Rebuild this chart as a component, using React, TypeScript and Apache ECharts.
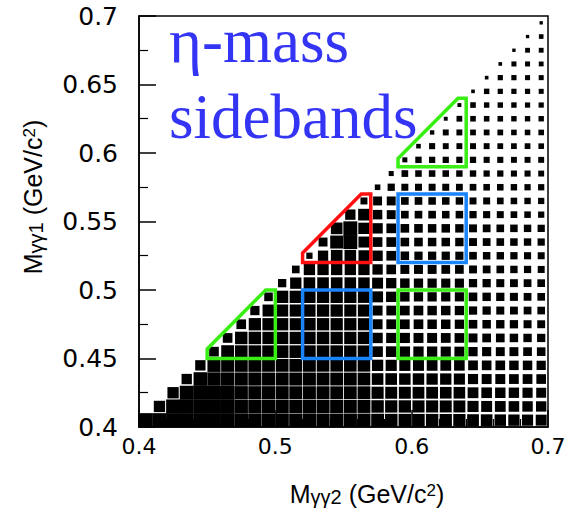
import React, { useEffect, useRef } from "react";
import * as echarts from "echarts";

// Bin centres of the 30 x 30 histogram (both axes share the binning, 0.01 GeV/c^2 wide).
const binCentres = [
  0.405, 0.415, 0.425, 0.435, 0.445, 0.455, 0.465, 0.475, 0.485, 0.495,
  0.505, 0.515, 0.525, 0.535, 0.545, 0.555, 0.565, 0.575, 0.585, 0.595,
  0.605, 0.615, 0.625, 0.635, 0.645, 0.655, 0.665, 0.675, 0.685, 0.695,
];

// Bin contents, one row per Mγγ1 bin; row j holds the Mγγ2 bins j..29 (Mγγ2 >= Mγγ1).
const rowCounts: number[][] = [
  [100, 100, 100, 100, 100, 100, 100, 95, 93, 92, 92, 90, 92, 90, 90, 90, 88, 84, 81, 81, 79, 79, 77, 77, 71, 69, 67, 65, 63, 61],
  [65, 100, 100, 100, 100, 100, 92, 90, 90, 90, 88, 90, 88, 88, 86, 86, 79, 77, 77, 75, 75, 73, 73, 63, 61, 59, 57, 55, 54],
  [65, 100, 100, 100, 100, 90, 88, 88, 88, 86, 86, 86, 84, 84, 84, 75, 73, 73, 71, 71, 69, 69, 59, 57, 55, 54, 52, 50],
  [54, 95, 92, 90, 88, 88, 86, 86, 86, 86, 84, 84, 84, 82, 69, 69, 67, 67, 65, 65, 63, 52, 50, 50, 48, 48, 47],
  [54, 88, 86, 86, 86, 84, 84, 84, 84, 82, 81, 81, 81, 65, 63, 63, 61, 59, 59, 57, 48, 47, 47, 45, 45, 43],
  [47, 84, 82, 81, 81, 81, 81, 81, 81, 81, 79, 79, 57, 57, 55, 54, 54, 52, 50, 43, 42, 40, 40, 38, 37],
  [47, 79, 79, 77, 77, 77, 79, 79, 77, 77, 77, 54, 52, 52, 50, 50, 48, 47, 40, 38, 38, 36, 35, 34],
  [47, 77, 77, 77, 75, 79, 77, 77, 77, 75, 50, 48, 47, 47, 45, 45, 43, 37, 36, 35, 34, 32, 31],
  [43, 73, 75, 75, 77, 77, 77, 75, 75, 50, 48, 47, 47, 45, 45, 43, 34, 34, 32, 31, 30, 29],
  [37, 77, 77, 77, 77, 77, 77, 75, 61, 54, 45, 43, 43, 43, 42, 37, 35, 34, 32, 30, 29],
  [34, 65, 69, 69, 69, 69, 67, 61, 54, 45, 43, 43, 42, 42, 34, 34, 32, 31, 30, 29],
  [29, 65, 65, 65, 65, 65, 54, 47, 40, 40, 40, 38, 38, 31, 30, 29, 27, 26, 24],
  [19, 54, 69, 69, 61, 54, 47, 36, 34, 34, 34, 33, 29, 28, 27, 26, 25, 24],
  [40, 86, 100, 61, 47, 47, 37, 37, 36, 36, 35, 31, 30, 29, 28, 27, 26],
  [69, 100, 65, 54, 47, 37, 37, 36, 36, 35, 31, 30, 29, 28, 27, 26],
  [54, 69, 45, 40, 29, 29, 29, 28, 28, 26, 25, 24, 22, 21, 19],
  [24, 40, 40, 29, 29, 28, 28, 27, 24, 24, 22, 21, 20, 19],
  [15, 26, 24, 24, 24, 24, 23, 22, 21, 21, 20, 19, 19],
  [12, 22, 21, 21, 21, 20, 20, 19, 19, 18, 18, 17],
  [12, 20, 19, 19, 19, 19, 18, 18, 17, 17, 17],
  [10, 18, 17, 17, 17, 17, 16, 16, 16, 15],
  [9, 17, 17, 16, 16, 16, 15, 15, 15],
  [7, 16, 15, 15, 15, 14, 14, 14],
  [7, 15, 14, 14, 14, 13, 13],
  [6, 14, 13, 13, 13, 12],
  [6, 13, 13, 12, 12],
  [6, 12, 12, 11],
  [5, 11, 11],
  [5, 10],
  [5],
];
const maxCount = 100;

// Axis ticks
const xTicks = [0.4, 0.5, 0.6, 0.7];
const yTicks = [0.4, 0.45, 0.5, 0.55, 0.6, 0.65, 0.7];

// Selection regions as [Mγγ2, Mγγ1] vertices
const etaSignal = [[0.52, 0.52], [0.57, 0.52], [0.57, 0.57], [0.563, 0.57], [0.52, 0.527], [0.52, 0.52]];
const lowTriangle = [[0.45, 0.45], [0.5, 0.45], [0.5, 0.5], [0.493, 0.5], [0.45, 0.457], [0.45, 0.45]];
const highTriangle = [[0.59, 0.59], [0.64, 0.59], [0.64, 0.64], [0.634, 0.64], [0.59, 0.596], [0.59, 0.59]];
const lowBox = [[0.52, 0.45], [0.57, 0.45], [0.57, 0.5], [0.52, 0.5], [0.52, 0.45]];
const highBox = [[0.59, 0.52], [0.64, 0.52], [0.64, 0.57], [0.59, 0.57], [0.59, 0.52]];
const sideBox = [[0.59, 0.45], [0.64, 0.45], [0.64, 0.5], [0.59, 0.5], [0.59, 0.45]];

const GREEN = "#39ee14";
const BLUE = "#1a84fa";
const RED = "#ff1010";

const W = 569;
const H = 515;
const GRID = { left: 139, top: 16, width: 409, height: 411 };

export default function App() {
  const ref = useRef<HTMLDivElement>(null);

  useEffect(() => {
    if (!ref.current) return;
    const chart = echarts.init(ref.current, undefined, { renderer: "svg" });

    const binW = GRID.width / binCentres.length;
    const binH = GRID.height / binCentres.length;

    const cells: number[][] = [];
    rowCounts.forEach((row, j) => {
      row.forEach((c, k) => {
        cells.push([binCentres[j + k], binCentres[j], c]);
      });
    });

    const outline = (data: number[][], color: string) => ({
      type: "line",
      data,
      symbol: "none",
      silent: true,
      z: 5,
      lineStyle: { color, width: 3.5, join: "miter", cap: "square" },
    });

    const tickFmt = (v: number) => String(Math.round(v * 100) / 100);
    const sans = "Liberation Sans";
    const titleRich = {
      m: { fontFamily: sans, fontSize: 25, lineHeight: 25, verticalAlign: "top", fill: "#000" },
      s: { fontFamily: sans, fontSize: 20, lineHeight: 25, padding: [8, 0, 0, 0], verticalAlign: "bottom", fill: "#000" },
      p: { fontFamily: sans, fontSize: 17, lineHeight: 15, verticalAlign: "top", fill: "#000" },
    };

    chart.setOption({
      animation: false,
      backgroundColor: "#fff",
      grid: {
        left: GRID.left,
        top: GRID.top,
        width: GRID.width,
        height: GRID.height,
        show: true,
        borderColor: "#000",
        borderWidth: 1.5,
        backgroundColor: "transparent",
      },
      xAxis: {
        type: "value",
        min: xTicks[0],
        max: xTicks[xTicks.length - 1],
        interval: 0.1,
        axisLine: { show: true, lineStyle: { color: "#000", width: 1.5 } },
        axisTick: { show: true, inside: true, length: 17, lineStyle: { color: "#000", width: 1.5 } },
        minorTick: { show: true, splitNumber: 5, length: 8, lineStyle: { color: "#000", width: 1.2 } },
        splitLine: { show: false },
        axisLabel: {
          formatter: tickFmt,
          fontFamily: "DejaVu Sans",
          fontSize: 22,
          color: "#000",
          margin: 8,
        },
      },
      yAxis: {
        type: "value",
        min: yTicks[0],
        max: yTicks[yTicks.length - 1],
        interval: 0.05,
        axisLine: { show: true, lineStyle: { color: "#000", width: 1.5 } },
        axisTick: { show: true, inside: true, length: 17, lineStyle: { color: "#000", width: 1.5 } },
        minorTick: { show: true, splitNumber: 2, length: 9, lineStyle: { color: "#000", width: 1.2 } },
        splitLine: { show: false },
        axisLabel: {
          formatter: tickFmt,
          fontFamily: "DejaVu Sans",
          fontSize: 25,
          color: "#000",
          margin: 21,
        },
      },
      series: [
        {
          type: "scatter",
          data: cells,
          symbol: "rect",
          silent: true,
          z: 2,
          symbolSize: (v: number[]) => {
            const f = Math.sqrt(Math.min(v[2], maxCount) / maxCount);
            return [binW * f + 0.3, binH * f + 0.3];
          },
          itemStyle: { color: "#000", opacity: 1 },
        },
        outline(etaSignal, RED),
        outline(lowTriangle, GREEN),
        outline(highTriangle, GREEN),
        outline(sideBox, GREEN),
        outline(lowBox, BLUE),
        outline(highBox, BLUE),
      ],
      graphic: [
        {
          type: "text",
          x: 169,
          y: 41,
          z: 10,
          style: {
            text: "η-mass",
            fontFamily: "Liberation Serif",
            fontSize: 63,
            fill: "#3434f4",
            verticalAlign: "middle",
          },
        },
        {
          type: "text",
          x: 169,
          y: 117,
          z: 10,
          style: {
            text: "sidebands",
            fontFamily: "Liberation Serif",
            fontSize: 63,
            fill: "#3434f4",
            verticalAlign: "middle",
          },
        },
        {
          type: "text",
          x: 367,
          y: 494,
          style: {
            text: "{m|M}{s|γγ2}{m| (GeV/c}{p|2}{m|)}",
            align: "center",
            verticalAlign: "middle",
            fill: "#000",
            rich: titleRich,
          },
        },
        {
          type: "text",
          x: 33,
          y: 197,
          rotation: Math.PI / 2,
          style: {
            text: "{m|M}{s|γγ1}{m| (GeV/c}{p|2}{m|)}",
            align: "center",
            verticalAlign: "middle",
            fill: "#000",
            rich: titleRich,
          },
        },
      ],
    });

    return () => chart.dispose();
  }, []);

  return (
    <div
      ref={ref}
      style={{ position: "fixed", left: 0, top: 0, width: W, height: H, background: "#fff" }}
    />
  );
}
